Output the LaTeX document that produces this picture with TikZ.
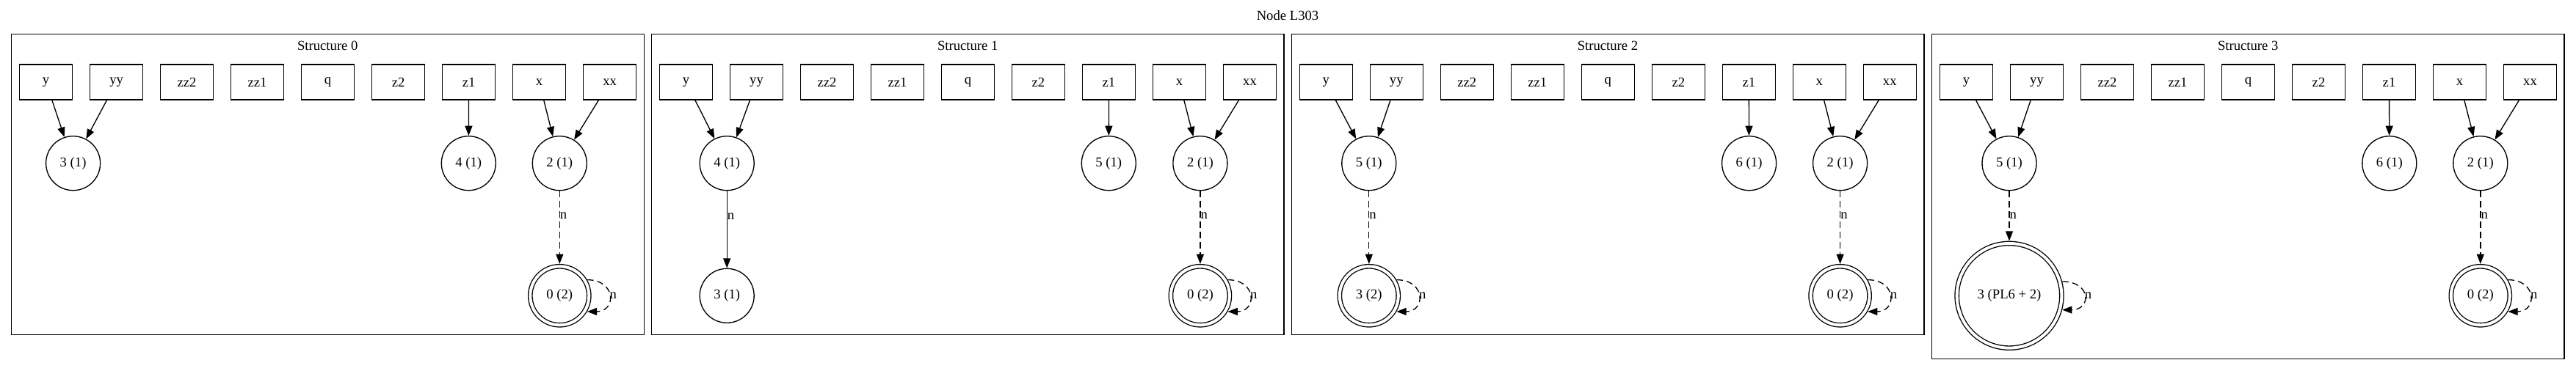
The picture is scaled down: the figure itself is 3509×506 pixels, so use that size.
\documentclass[tikz,border=0pt]{standalone}
\usepackage{fontspec}
\setmainfont{Liberation Serif}
\usetikzlibrary{arrows.meta}

\begin{document}
\begin{tikzpicture}[x=0.75pt,y=-0.75pt,line width=1pt,font=\fontsize{14pt}{16pt}\selectfont,
    var/.style={draw,rectangle,minimum width=54pt,minimum height=36pt,inner sep=0pt},
    cell/.style={draw,circle,minimum size=55.5pt,inner sep=0pt},
    accept/.style={draw,circle,double,double distance=3pt,minimum size=60pt,inner sep=0pt,outer sep=2.5pt},
    ptr/.style={-{Triangle[length=10pt,width=7.5pt]}},
    nxt/.style={ptr,dash pattern=on 6.5pt off 4pt},
    lab/.style={right,inner sep=0pt}]
\useasboundingbox (0,0) rectangle (3509,506);

%draw title
    \node (title) at (1754,20.7) {Node L303};

%draw clusters and variable boxes
    \foreach \s/\b/\h in {0/62.6/456.3,1/934.5/456.3,2/1806.3/456.3,3/2678.5/489.3} {
        \draw (\b-47.1,46.7) rectangle (\b+814.6,\h);
        \node (head-\s) at (\b+383.7,62) {Structure \s};
        \foreach \v [count=\i from 0] in {y,yy,zz2,zz1,q,z2,z1,x,xx}
            \node[var] (\v-\s) at (\b+96*\i,112) {\v};
    }

%structure 0
    \node[cell] (c3-0) at (99.6,222.7) {3 (1)};
    \node[cell] (c4-0) at (638.3,222.7) {4 (1)};
    \node[cell] (c2-0) at (762.3,222.7) {2 (1)};
    \node[accept] (c0-0) at (762.3,403.3) {0 (2)};
    \draw[ptr] (y-0) -- (c3-0);
    \draw[ptr] (yy-0) -- (c3-0);
    \draw[ptr] (z1-0) -- (c4-0);
    \draw[ptr] (x-0) -- (c2-0);
    \draw[ptr] (xx-0) -- (c2-0);
    \draw[nxt] (c2-0) -- node[lab,pos=0.34] {n} (c0-0);
    \draw[nxt] (c0-0.30) to[out=0,in=0,distance=30pt] node[lab] {n} (c0-0.-30);

%structure 1
    \node[cell] (c4-1) at (990.2,222.7) {4 (1)};
    \node[cell] (c5-1) at (1510.3,222.7) {5 (1)};
    \node[cell] (c2-1) at (1634.9,222.7) {2 (1)};
    \node[cell] (c3-1) at (990.2,403.3) {3 (1)};
    \node[accept] (c0-1) at (1634.9,403.3) {0 (2)};
    \draw[ptr] (y-1) -- (c4-1);
    \draw[ptr] (yy-1) -- (c4-1);
    \draw[ptr] (z1-1) -- (c5-1);
    \draw[ptr] (x-1) -- (c2-1);
    \draw[ptr] (xx-1) -- (c2-1);
    \draw[ptr] (c4-1) -- node[lab,pos=0.33] {n} (c3-1);
    \draw[nxt] (c2-1) -- node[lab,pos=0.34] {n} (c0-1);
    \draw[nxt] (c0-1.30) to[out=0,in=0,distance=30pt] node[lab] {n} (c0-1.-30);

%structure 2
    \node[cell] (c5-2) at (1864.8,222.7) {5 (1)};
    \node[cell] (c6-2) at (2382.6,222.7) {6 (1)};
    \node[cell] (c2-2) at (2506.6,222.7) {2 (1)};
    \node[accept] (c3-2) at (1864.8,403.3) {3 (2)};
    \node[accept] (c0-2) at (2506.6,403.3) {0 (2)};
    \draw[ptr] (y-2) -- (c5-2);
    \draw[ptr] (yy-2) -- (c5-2);
    \draw[ptr] (z1-2) -- (c6-2);
    \draw[ptr] (x-2) -- (c2-2);
    \draw[ptr] (xx-2) -- (c2-2);
    \draw[nxt] (c5-2) -- node[lab,pos=0.34] {n} (c3-2);
    \draw[nxt] (c3-2.30) to[out=0,in=0,distance=30pt] node[lab] {n} (c3-2.-30);
    \draw[nxt] (c2-2) -- node[lab,pos=0.34] {n} (c0-2);
    \draw[nxt] (c0-2.30) to[out=0,in=0,distance=30pt] node[lab] {n} (c0-2.-30);

%structure 3
    \node[cell] (c5-3) at (2737,222.7) {5 (1)};
    \node[cell] (c6-3) at (3254.8,222.7) {6 (1)};
    \node[cell] (c2-3) at (3378.8,222.7) {2 (1)};
    \node[accept,minimum size=107pt] (c3-3) at (2737,403.3) {3 (PL6 + 2)};
    \node[accept] (c0-3) at (3378.8,403.3) {0 (2)};
    \draw[ptr] (y-3) -- (c5-3);
    \draw[ptr] (yy-3) -- (c5-3);
    \draw[ptr] (z1-3) -- (c6-3);
    \draw[ptr] (x-3) -- (c2-3);
    \draw[ptr] (xx-3) -- (c2-3);
    \draw[nxt] (c5-3) -- node[lab,pos=0.5] {n} (c3-3);
    \draw[nxt] (c3-3.15) to[out=0,in=0,distance=30pt] node[lab] {n} (c3-3.-15);
    \draw[nxt] (c2-3) -- node[lab,pos=0.34] {n} (c0-3);
    \draw[nxt] (c0-3.30) to[out=0,in=0,distance=30pt] node[lab] {n} (c0-3.-30);

\end{tikzpicture}
\end{document}
